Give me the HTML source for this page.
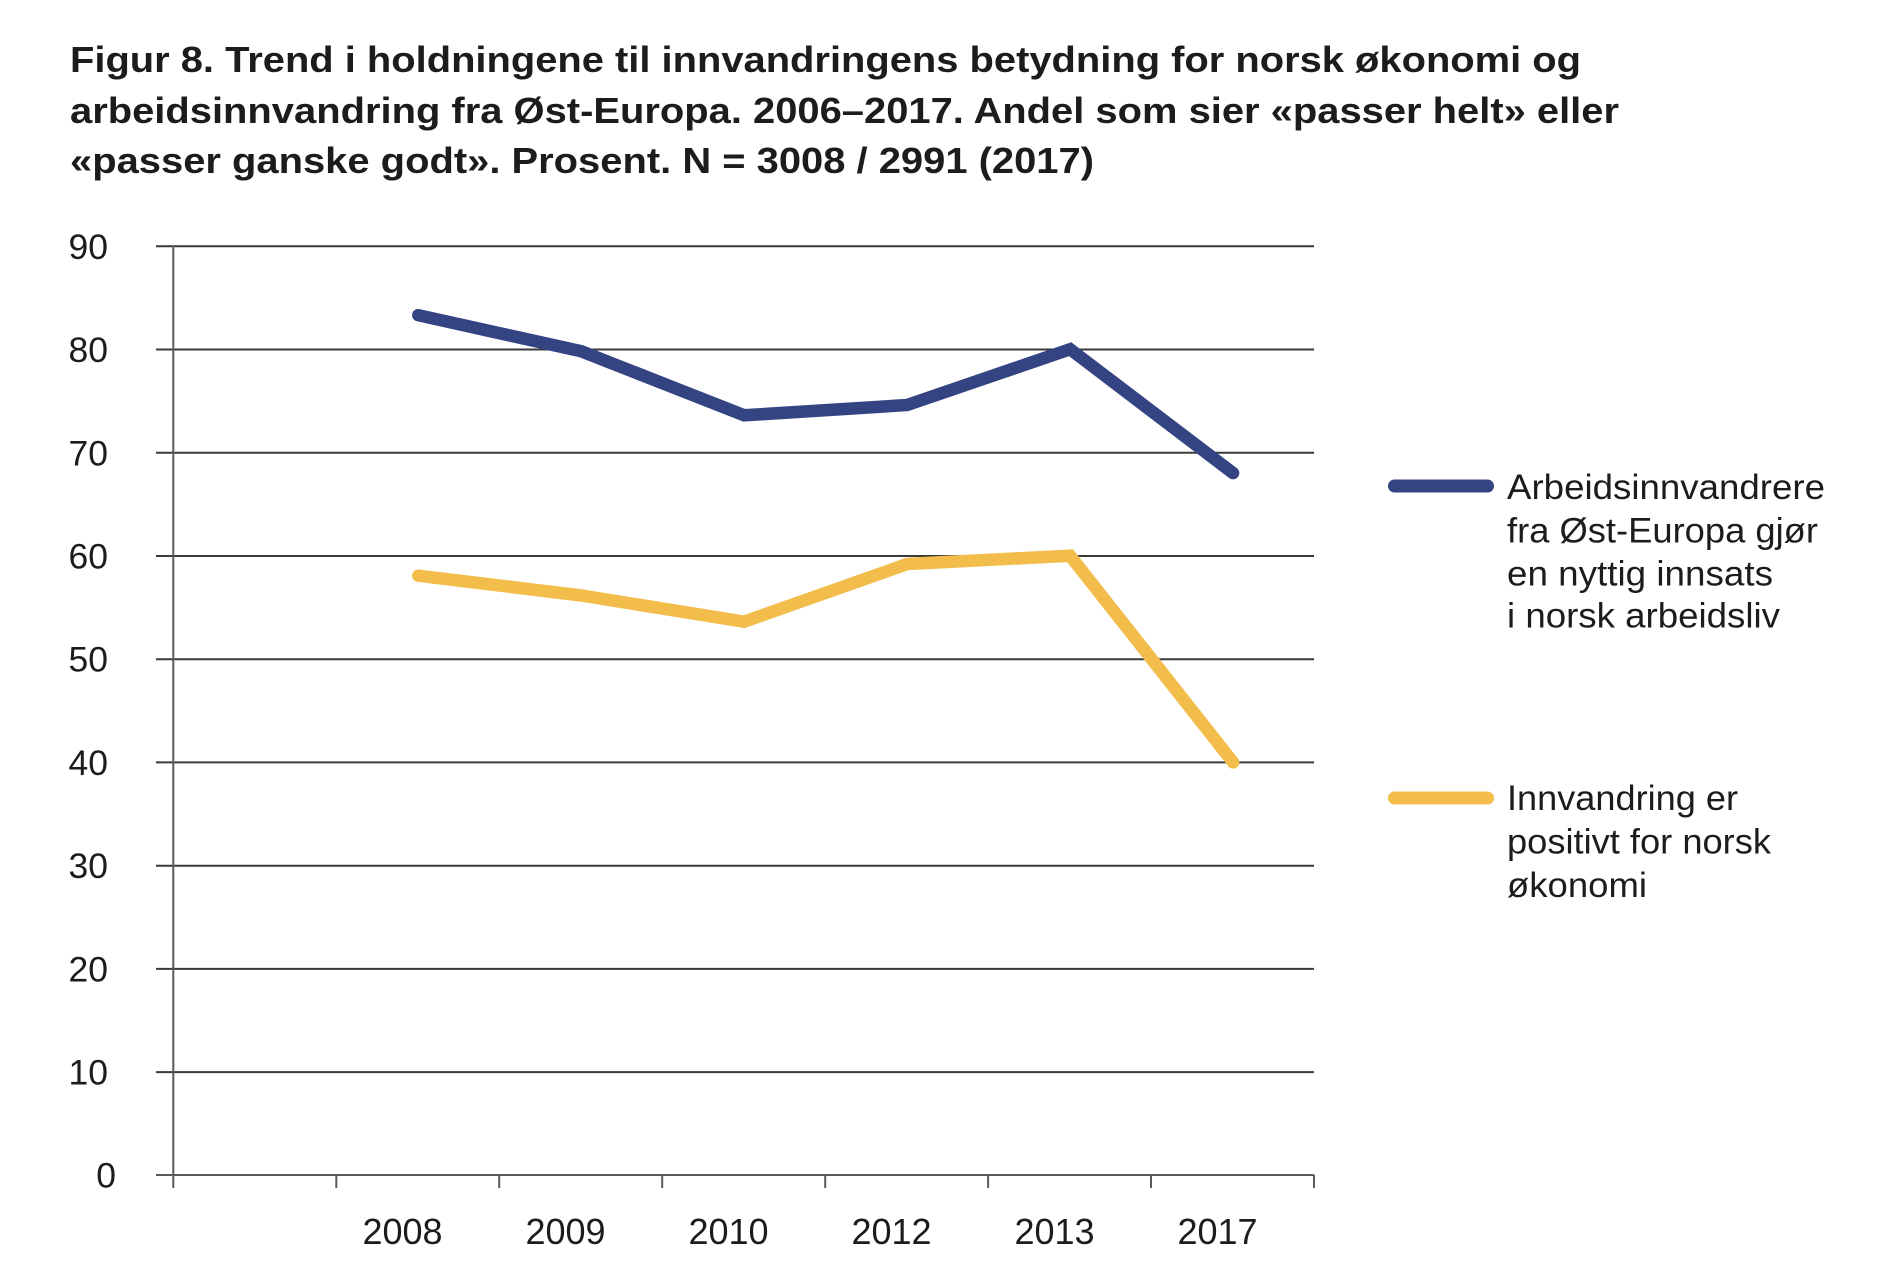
<!DOCTYPE html>
<html>
<head>
<meta charset="utf-8">
<style>
  html, body { margin:0; padding:0; background:#ffffff; }
  body { width:1878px; height:1284px; overflow:hidden; }
  svg { display:block; }
  text { font-family: "Liberation Sans", Arial, sans-serif; fill:#1c1c1c; }
</style>
</head>
<body>
<svg width="1878" height="1284" viewBox="0 0 1878 1284" xmlns="http://www.w3.org/2000/svg">
  <!-- Title -->
  <g font-weight="bold" font-size="36">
    <text x="70" y="72" textLength="1511" lengthAdjust="spacingAndGlyphs">Figur 8. Trend i holdningene til innvandringens betydning for norsk økonomi og</text>
    <text x="70" y="123" textLength="1549" lengthAdjust="spacingAndGlyphs">arbeidsinnvandring fra Øst-Europa. 2006–2017. Andel som sier «passer helt» eller</text>
    <text x="70" y="173" textLength="1024" lengthAdjust="spacingAndGlyphs">«passer ganske godt». Prosent. N = 3008 / 2991 (2017)</text>
  </g>

  <!-- Gridlines -->
  <g stroke="#3a3a3a" stroke-width="2">
    <line x1="156" y1="246.3" x2="1314" y2="246.3"/>
    <line x1="156" y1="349.5" x2="1314" y2="349.5"/>
    <line x1="156" y1="452.8" x2="1314" y2="452.8"/>
    <line x1="156" y1="556.0" x2="1314" y2="556.0"/>
    <line x1="156" y1="659.2" x2="1314" y2="659.2"/>
    <line x1="156" y1="762.4" x2="1314" y2="762.4"/>
    <line x1="156" y1="865.7" x2="1314" y2="865.7"/>
    <line x1="156" y1="968.9" x2="1314" y2="968.9"/>
    <line x1="156" y1="1072.1" x2="1314" y2="1072.1"/>
  </g>
  <!-- x axis + y axis -->
  <g stroke="#5a5a5a" stroke-width="2">
    <line x1="156" y1="1175" x2="1314" y2="1175"/>
    <line x1="173.3" y1="246" x2="173.3" y2="1188"/>
    <line x1="336.3" y1="1175" x2="336.3" y2="1188"/>
    <line x1="499.2" y1="1175" x2="499.2" y2="1188"/>
    <line x1="662.2" y1="1175" x2="662.2" y2="1188"/>
    <line x1="825.2" y1="1175" x2="825.2" y2="1188"/>
    <line x1="988.1" y1="1175" x2="988.1" y2="1188"/>
    <line x1="1151" y1="1175" x2="1151" y2="1188"/>
    <line x1="1314" y1="1175" x2="1314" y2="1188"/>
  </g>

  <!-- Y labels -->
  <g font-size="35.5" text-anchor="end">
    <text x="108" y="259">90</text>
    <text x="108" y="362">80</text>
    <text x="108" y="465.3">70</text>
    <text x="108" y="568.5">60</text>
    <text x="108" y="671.7">50</text>
    <text x="108" y="774.9">40</text>
    <text x="108" y="878.2">30</text>
    <text x="108" y="981.4">20</text>
    <text x="108" y="1084.6">10</text>
    <text x="116" y="1187.7">0</text>
  </g>

  <!-- X labels -->
  <g font-size="36" text-anchor="middle">
    <text x="402.5" y="1244">2008</text>
    <text x="565.5" y="1244">2009</text>
    <text x="728.5" y="1244">2010</text>
    <text x="891.5" y="1244">2012</text>
    <text x="1054.5" y="1244">2013</text>
    <text x="1217.5" y="1244">2017</text>
  </g>

  <!-- Series -->
  <polyline fill="none" stroke="#344482" stroke-width="12.5" stroke-linecap="round" stroke-linejoin="miter"
    points="418.3,315.2 581.3,351.3 744.2,415.3 907.2,405.0 1070.1,349.2 1233.1,473.1"/>
  <polyline fill="none" stroke="#f2bd4b" stroke-width="12.5" stroke-linecap="round" stroke-linejoin="miter"
    points="418.3,575.7 581.3,595.5 744.2,621.7 907.2,564.0 1070.1,555.7 1233.1,762.4"/>

  <!-- Legend -->
  <line x1="1394.5" y1="486" x2="1487.5" y2="486" stroke="#344482" stroke-width="13" stroke-linecap="round"/>
  <g font-size="35.5">
    <text x="1507" y="499" textLength="318" lengthAdjust="spacingAndGlyphs">Arbeidsinnvandrere</text>
    <text x="1507" y="542.5" textLength="311" lengthAdjust="spacingAndGlyphs">fra Øst-Europa gjør</text>
    <text x="1507" y="585.5" textLength="266" lengthAdjust="spacingAndGlyphs">en nyttig innsats</text>
    <text x="1507" y="627.5" textLength="273" lengthAdjust="spacingAndGlyphs">i norsk arbeidsliv</text>
  </g>
  <line x1="1394.5" y1="798" x2="1487.5" y2="798" stroke="#f2bd4b" stroke-width="13" stroke-linecap="round"/>
  <g font-size="35.5">
    <text x="1507" y="810" textLength="231" lengthAdjust="spacingAndGlyphs">Innvandring er</text>
    <text x="1507" y="853.5" textLength="264" lengthAdjust="spacingAndGlyphs">positivt for norsk</text>
    <text x="1507" y="897" textLength="140" lengthAdjust="spacingAndGlyphs">økonomi</text>
  </g>
</svg>
</body>
</html>
